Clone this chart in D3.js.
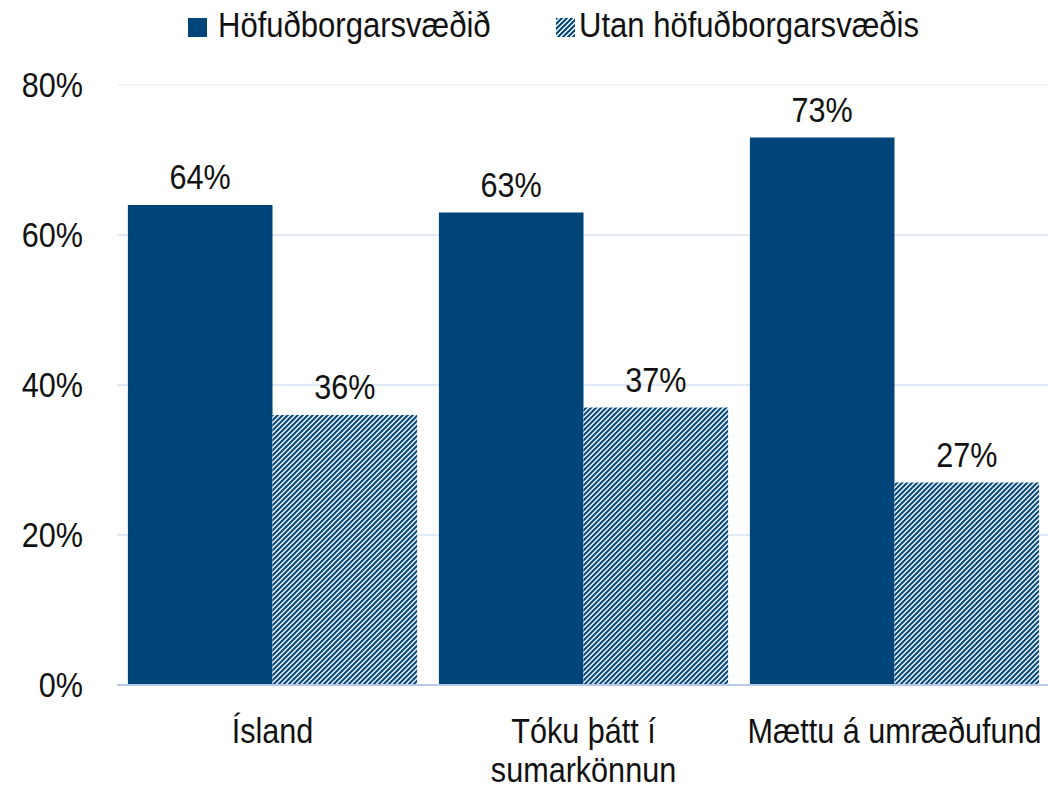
<!DOCTYPE html>
<html lang="is">
<head>
<meta charset="UTF-8">
<title>Höfuðborgarsvæðið / Utan höfuðborgarsvæðis</title>
<script src="https://d3js.org/d3.v7.min.js"></script>
<style>
  body { margin: 0; background: #fff; }
  text { font-family: "Liberation Sans", Arial, sans-serif; fill: #111; }
</style>
</head>
<body>
<svg width="1048" height="789"></svg>
<script>
// data
const categories = ["Ísland", "Tóku þátt í sumarkönnun", "Mættu á umræðufund"];
const seriesNames = ["Höfuðborgarsvæðið", "Utan höfuðborgarsvæðis"];
const capital = [0.64, 0.63, 0.73];
const outside = [0.36, 0.37, 0.27];
const yTicks = [0, 0.2, 0.4, 0.6, 0.8];

const svg = d3.select("svg");
const blue = "#004579";
const narrow = 0.85;   // no Arial Narrow here, so squeeze Liberation Sans

// hatch pattern for second series
const defs = svg.append("defs");
const pat = defs.append("pattern")
    .attr("id", "hatch")
    .attr("patternUnits", "userSpaceOnUse")
    .attr("width", 5)
    .attr("height", 5);
pat.append("rect").attr("width", 5).attr("height", 5).attr("fill", "#fff");
pat.append("path")
    .attr("d", "M-1,1 l2,-2 M0,5 l5,-5 M4,6 l2,-2")
    .attr("stroke", blue)
    .attr("stroke-width", 2.1);

const fills = [blue, "url(#hatch)"];

// scales
const x = d3.scaleBand()
    .domain(categories)
    .range([117, 1050])
    .paddingInner(0.07)
    .paddingOuter(0.035);

const xs = d3.scaleBand()
    .domain(seriesNames)
    .range([0, x.bandwidth()]);

const y = d3.scaleLinear()
    .domain([0, 0.8])
    .range([685, 85]);

// gridlines
svg.append("g")
    .selectAll("line")
    .data(yTicks.filter(d => d > 0))
    .enter()
    .append("line")
    .attr("x1", 117)
    .attr("x2", 1048)
    .attr("y1", d => y(d))
    .attr("y2", d => y(d))
    .attr("stroke", d => d === 0.8 ? "#eef2f9" : "#d9e2f3")
    .attr("stroke-width", 1.5);

// y axis labels
const yAxis = d3.axisLeft(y)
    .tickValues(yTicks)
    .tickFormat(d3.format(".0%"))
    .tickSize(0)
    .tickPadding(0);

svg.append("g")
    .attr("transform", "translate(83,0)")
    .call(yAxis)
    .call(g => g.select(".domain").remove())
    .call(g => g.selectAll("text")
        .attr("font-size", 36)
        .attr("font-family", null)
        .attr("fill", "#111")
        .attr("transform", `scale(${narrow},1)`));

// bars
const data = categories.map((c, i) => ({ cat: c, values: [capital[i], outside[i]] }));

const groups = svg.append("g")
    .selectAll("g")
    .data(data)
    .enter()
    .append("g")
    .attr("transform", d => `translate(${x(d.cat)},0)`);

groups.selectAll("rect")
    .data(d => d.values.map((v, j) => ({ name: seriesNames[j], v: v, j: j })))
    .enter()
    .append("rect")
    .attr("x", d => xs(d.name))
    .attr("width", xs.bandwidth())
    .attr("y", d => y(d.v))
    .attr("height", d => y(0) - y(d.v))
    .attr("fill", d => fills[d.j]);

groups.selectAll("text.val")
    .data(d => d.values.map((v, j) => ({ name: seriesNames[j], v: v })))
    .enter()
    .append("text")
    .attr("class", "val")
    .attr("transform", d => `translate(${xs(d.name) + xs.bandwidth() / 2},${y(d.v) - 16}) scale(${narrow},1)`)
    .attr("text-anchor", "middle")
    .attr("font-size", 36)
    .text(d => d3.format(".0%")(d.v));

// baseline
svg.append("line")
    .attr("x1", 117)
    .attr("x2", 1048)
    .attr("y1", y(0))
    .attr("y2", y(0))
    .attr("stroke", "#b9cae8")
    .attr("stroke-width", 2);

// category labels, wrapped to the band step
const catText = svg.append("g")
    .selectAll("text")
    .data(categories)
    .enter()
    .append("text")
    .attr("transform", d => `translate(${x(d) + x.bandwidth() / 2},743) scale(${narrow},1)`)
    .attr("text-anchor", "middle")
    .attr("font-size", 36);

catText.each(function(d) {
    const t = d3.select(this);
    const words = d.split(" ");
    let line = [];
    let tspan = t.append("tspan").attr("x", 0).attr("dy", 0);
    words.forEach(w => {
        line.push(w);
        tspan.text(line.join(" "));
        if (tspan.node().getComputedTextLength() * narrow > x.step() && line.length > 1) {
            line.pop();
            tspan.text(line.join(" "));
            line = [w];
            tspan = t.append("tspan")
                .attr("x", 0)
                .attr("dy", 39)
                .text(w);
        }
    });
});

// legend
const legendBox = [188, 556];
const legendText = [218, 579];
const legend = svg.append("g")
    .selectAll("g")
    .data(seriesNames)
    .enter()
    .append("g");

legend.append("rect")
    .attr("x", (d, i) => legendBox[i])
    .attr("y", 18)
    .attr("width", 19)
    .attr("height", 19)
    .attr("fill", (d, i) => fills[i]);

legend.append("text")
    .attr("transform", (d, i) => `translate(${legendText[i]},37) scale(0.9,1)`)
    .attr("font-size", 34.5)
    .text(d => d);
</script>
</body>
</html>
